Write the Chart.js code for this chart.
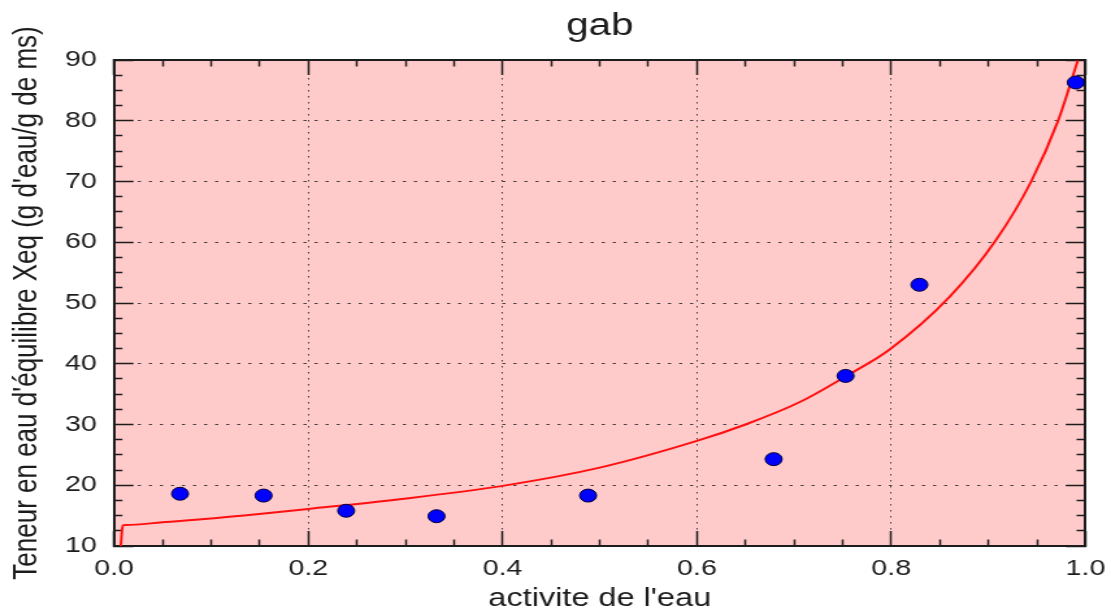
<!DOCTYPE html>
<html>
<head>
<meta charset="utf-8">
<script src="https://cdn.jsdelivr.net/npm/chart.js@4"></script>
<style>
  html, body { margin: 0; padding: 0; background: #fff; overflow: hidden; }
  /* the original picture is stretched sideways, so the chart is drawn narrow and widened */
  #wrap { width: 855px; height: 614px; transform: scaleX(1.29942); transform-origin: 0 0; }
</style>
</head>
<body>
<div id="wrap"><canvas id="gabChart" width="855" height="614"></canvas></div>
<script>
// measured points: water activity vs equilibrium moisture content
const awMeasured  = [0.068, 0.154, 0.239, 0.332, 0.488, 0.679, 0.753, 0.829, 0.990];
const xeqMeasured = [18.6, 18.3, 15.8, 14.9, 18.3, 24.3, 38.0, 53.0, 86.3];

// GAB model curve
const awModel  = [0.007, 0.009, 0.012, 0.05, 0.09, 0.157, 0.2, 0.294, 0.4, 0.5, 0.6, 0.65, 0.706, 0.754, 0.798, 0.86, 0.908, 0.944, 0.972, 0.992];
const xeqModel = [10.0, 13.4, 13.45, 13.9, 14.4, 15.4, 16.1, 17.7, 19.9, 22.9, 27.3, 30.0, 33.7, 38.0, 42.3, 51.0, 60.4, 70.0, 80.1, 89.9];

const xTickLabels = ['0.0', '0.2', '0.4', '0.6', '0.8', '1.0'];
const yTickLabels = ['10', '20', '30', '40', '50', '60', '70', '80', '90'];

const FONT = "'Liberation Sans', Arial, Helvetica, sans-serif";
const INK = '#1c1c1c';
const MAJOR = 15, MINOR = 6.5, BORDER = 2;

function isMajor(ctx) { return ctx.index % 4 === 0; }

// inward ticks, every 4th one is a long (major) tick
function tickDash(position) {
  return function(ctx) {
    if (isMajor(ctx)) return [];
    if (position === 'bottom' || position === 'right') return [BORDER / 2 + MINOR, 1000];
    return [0, MAJOR - MINOR, MINOR + BORDER / 2, 1000];
  };
}

// fixed box sizes, and no extra room asked for the edge labels
function fixSize(w, h) {
  return function(s) {
    if (w !== null) s.width = w;
    if (h !== null) s.height = h;
    s.paddingLeft = 0; s.paddingRight = 0; s.paddingTop = 0; s.paddingBottom = 0;
  };
}

function sideScale(axis, position, min, max, step, gridDash, onArea) {
  return {
    type: 'linear', axis: axis, position: position,
    min: min, max: max,
    ticks: { stepSize: step, autoSkip: false, display: false },
    grid: {
      drawOnChartArea: onArea,
      color: ctx => isMajor(ctx) ? 'rgba(40,40,40,0.85)' : 'rgba(0,0,0,0)',
      lineWidth: 1,
      tickLength: -MAJOR,
      tickColor: INK,
      tickWidth: 1.5,
      tickBorderDash: tickDash(position)
    },
    border: { display: true, color: INK, width: BORDER, dash: gridDash }
  };
}

const xScale = sideScale('x', 'bottom', 0, 1, 0.05, [1.5, 4.5], true);
xScale.ticks = {
  stepSize: 0.05, autoSkip: false, maxRotation: 0, padding: 24.8, color: INK,
  font: { family: FONT, size: 22 },
  callback: (v, i) => i % 4 === 0 ? xTickLabels[i / 4] : ''
};
xScale.title = { display: true, text: "activite de l'eau", color: INK,
  font: { family: FONT, size: 25 }, padding: { top: 0, bottom: 0 } };
xScale.afterFit = fixSize(null, 68);

const xTop = sideScale('x', 'top', 0, 1, 0.05, [], false);
xTop.title = { display: true, text: 'gab', color: INK,
  font: { family: FONT, size: 31 }, padding: { top: 8, bottom: 0 } };
xTop.afterFit = fixSize(null, 60);

const yScale = sideScale('y', 'left', 10, 90, 2.5, [2.5, 6], true);
yScale.ticks = {
  stepSize: 2.5, autoSkip: false, padding: 28.3, color: INK,
  font: { family: FONT, size: 22 },
  callback: (v, i) => i % 4 === 0 ? yTickLabels[i / 4] : ''
};
yScale.title = { display: true, text: "Teneur en eau d'équilibre Xeq (g d'eau/g de ms)", color: INK,
  font: { family: FONT, size: 26 }, padding: { top: 5.6, bottom: 0 } };
yScale.afterFit = fixSize(87.7, null);

const yRight = sideScale('y', 'right', 10, 90, 2.5, [], false);
yRight.afterFit = fixSize(0, null);

const plotBackground = {
  id: 'plotBackground',
  beforeDraw(chart) {
    const a = chart.chartArea;
    const c = chart.ctx;
    c.save();
    c.fillStyle = '#ffcaca';
    c.fillRect(a.left, a.top, a.right - a.left, a.bottom - a.top);
    c.restore();
  }
};

new Chart(document.getElementById('gabChart'), {
  type: 'scatter',
  data: {
    datasets: [
      {
        label: 'mesures',
        data: awMeasured.map((x, i) => ({ x: x, y: xeqMeasured[i] })),
        backgroundColor: '#0000ff',
        borderColor: '#00003a',
        borderWidth: 1,
        pointRadius: 6.5,
        xAxisID: 'x', yAxisID: 'y'
      },
      {
        label: 'GAB',
        data: awModel.map((x, i) => ({ x: x, y: xeqModel[i] })),
        showLine: true,
        borderColor: '#ff1010',
        borderWidth: 2,
        pointRadius: 0,
        cubicInterpolationMode: 'monotone',
        xAxisID: 'x', yAxisID: 'y'
      }
    ]
  },
  options: {
    responsive: false,
    animation: false,
    layout: { padding: { left: 0, right: 19.6, top: 0, bottom: 0 } },
    plugins: { legend: { display: false }, tooltip: { enabled: false }, title: { display: false } },
    scales: { x: xScale, xTop: xTop, y: yScale, yRight: yRight }
  },
  plugins: [plotBackground]
});
</script>
</body>
</html>
